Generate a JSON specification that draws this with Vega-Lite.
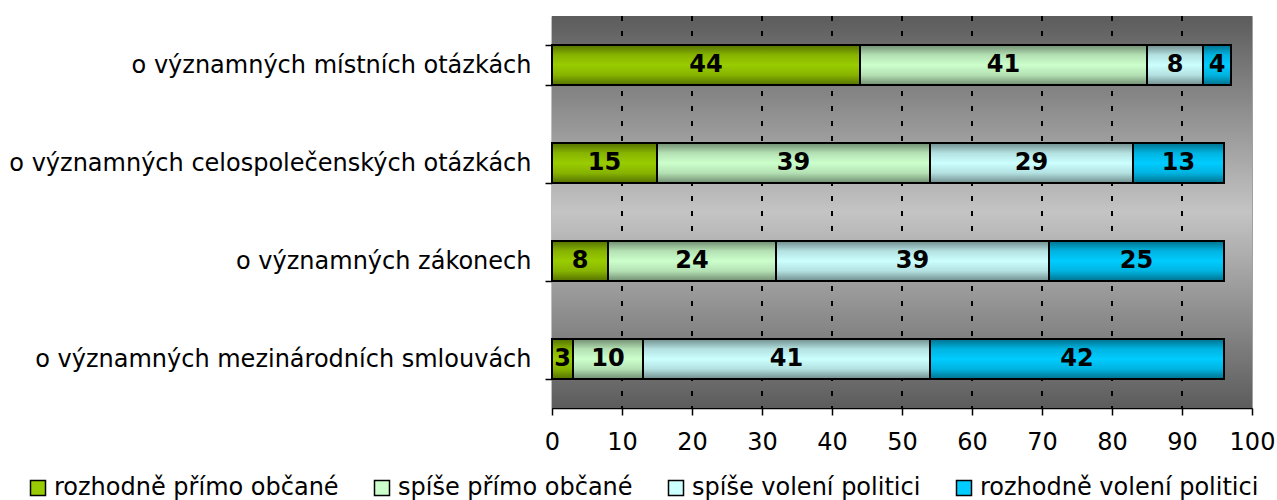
{
  "$schema": "https://vega.github.io/schema/vega-lite/v6.json",
  "width": 700,
  "height": 392,
  "autosize": {"type": "none"},
  "padding": {"left": 552, "top": 16, "right": 25, "bottom": 92},
  "background": "white",
  "config": {
    "font": "DejaVu Sans",
    "view": {"stroke": "#a0a0a0", "strokeWidth": 1}
  },
  "datasets": {
    "bars": [
      {"q": "o významných místních otázkách", "k": "rozhodně přímo občané", "o": 1, "v": 44},
      {"q": "o významných místních otázkách", "k": "spíše přímo občané", "o": 2, "v": 41},
      {"q": "o významných místních otázkách", "k": "spíše volení politici", "o": 3, "v": 8},
      {"q": "o významných místních otázkách", "k": "rozhodně volení politici", "o": 4, "v": 4},
      {"q": "o významných celospolečenských otázkách", "k": "rozhodně přímo občané", "o": 1, "v": 15},
      {"q": "o významných celospolečenských otázkách", "k": "spíše přímo občané", "o": 2, "v": 39},
      {"q": "o významných celospolečenských otázkách", "k": "spíše volení politici", "o": 3, "v": 29},
      {"q": "o významných celospolečenských otázkách", "k": "rozhodně volení politici", "o": 4, "v": 13},
      {"q": "o významných zákonech", "k": "rozhodně přímo občané", "o": 1, "v": 8},
      {"q": "o významných zákonech", "k": "spíše přímo občané", "o": 2, "v": 24},
      {"q": "o významných zákonech", "k": "spíše volení politici", "o": 3, "v": 39},
      {"q": "o významných zákonech", "k": "rozhodně volení politici", "o": 4, "v": 25},
      {"q": "o významných mezinárodních smlouvách", "k": "rozhodně přímo občané", "o": 1, "v": 3},
      {"q": "o významných mezinárodních smlouvách", "k": "spíše přímo občané", "o": 2, "v": 10},
      {"q": "o významných mezinárodních smlouvách", "k": "spíše volení politici", "o": 3, "v": 41},
      {"q": "o významných mezinárodních smlouvách", "k": "rozhodně volení politici", "o": 4, "v": 42}
    ],
    "grid": [{"g": 10}, {"g": 20}, {"g": 30}, {"g": 40}, {"g": 50}, {"g": 60}, {"g": 70}, {"g": 80}, {"g": 90}]
  },
  "layer": [
    {
      "data": {"values": [{}]},
      "mark": {
        "type": "rect",
        "fill": {
          "gradient": "linear", "x1": 0, "y1": 0, "x2": 0, "y2": 1,
          "stops": [
            {"offset": 0, "color": "#5c5c5c"},
            {"offset": 0.5, "color": "#c4c4c4"},
            {"offset": 1, "color": "#5c5c5c"}
          ]
        }
      },
      "encoding": {
        "x": {"datum": 0, "type": "quantitative"},
        "x2": {"datum": 100}
      }
    },
    {
      "data": {"name": "grid"},
      "mark": {"type": "rule", "color": "black", "strokeWidth": 2, "strokeDash": [5, 10]},
      "encoding": {"x": {"field": "g", "type": "quantitative"}}
    },
    {
      "data": {"name": "bars"},
      "transform": [
        {"stack": "v", "groupby": ["q"], "sort": [{"field": "o"}], "as": ["x0", "x1"]},
        {"calculate": "(datum.x0 + datum.x1) / 2", "as": "xm"}
      ],
      "layer": [
        {
          "mark": {"type": "bar", "stroke": "black", "strokeWidth": 2},
          "encoding": {
            "x": {
              "field": "x0", "type": "quantitative",
              "scale": {"domain": [0, 100], "nice": false},
              "axis": {
                "values": [0, 10, 20, 30, 40, 50, 60, 70, 80, 90, 100],
                "title": null, "grid": false,
                "domainColor": "black", "domainWidth": 1.5,
                "tickColor": "black", "tickWidth": 1.5, "tickSize": 7,
                "labelFontSize": 24, "labelColor": "black", "labelPadding": 15,
                "labelFont": "DejaVu Sans", "labelFlush": false
              }
            },
            "x2": {"field": "x1"},
            "y": {
              "field": "q", "type": "nominal",
              "sort": ["o významných místních otázkách", "o významných celospolečenských otázkách", "o významných zákonech", "o významných mezinárodních smlouvách"],
              "scale": {"paddingInner": 0.59, "paddingOuter": 0.295},
              "axis": {
                "title": null, "tickBand": "extent",
                "domainColor": "black", "domainWidth": 1.5,
                "tickColor": "black", "tickWidth": 1.5, "tickSize": 7,
                "labelFontSize": 24, "labelColor": "black", "labelPadding": 14,
                "labelFont": "DejaVu Sans", "labelLimit": 700
              }
            },
            "color": {
              "field": "k", "type": "nominal",
              "scale": {
                "domain": ["rozhodně přímo občané", "spíše přímo občané", "spíše volení politici", "rozhodně volení politici"],
                "range": ["#99cc00", "#ccffcc", "#ccffff", "#00ccff"]
              },
              "legend": {
                "orient": "none", "direction": "horizontal", "columns": 4,
                "legendX": -526, "legendY": 460, "title": null,
                "symbolType": "square", "symbolSize": 225, "symbolStrokeColor": "black", "symbolStrokeWidth": 1.5,
                "labelFontSize": 24, "labelColor": "black", "labelFont": "DejaVu Sans",
                "labelOffset": 4, "columnPadding": 31, "labelLimit": 500
              }
            }
          }
        },
        {
          "mark": {
            "type": "bar", "stroke": "black", "strokeWidth": 2,
            "fill": {
              "gradient": "linear", "x1": 0, "y1": 0, "x2": 0, "y2": 1,
              "stops": [
                {"offset": 0, "color": "rgba(0,0,0,0.45)"},
                {"offset": 0.25, "color": "rgba(0,0,0,0.12)"},
                {"offset": 0.5, "color": "rgba(0,0,0,0)"},
                {"offset": 0.75, "color": "rgba(0,0,0,0.12)"},
                {"offset": 1, "color": "rgba(0,0,0,0.45)"}
              ]
            }
          },
          "encoding": {
            "x": {"field": "x0", "type": "quantitative"},
            "x2": {"field": "x1"},
            "y": {"field": "q", "type": "nominal", "sort": ["o významných místních otázkách", "o významných celospolečenských otázkách", "o významných zákonech", "o významných mezinárodních smlouvách"]}
          }
        },
        {
          "mark": {"type": "text", "fontSize": 24, "fontWeight": "bold", "color": "black", "font": "DejaVu Sans", "baseline": "middle", "align": "center"},
          "encoding": {
            "x": {"field": "xm", "type": "quantitative"},
            "y": {"field": "q", "type": "nominal", "sort": ["o významných místních otázkách", "o významných celospolečenských otázkách", "o významných zákonech", "o významných mezinárodních smlouvách"]},
            "text": {"field": "v", "type": "quantitative"}
          }
        }
      ]
    }
  ]
}
